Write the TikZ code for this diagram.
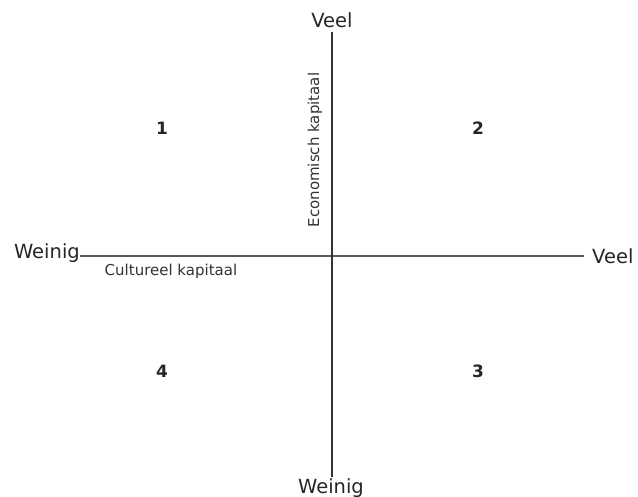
\documentclass[tikz,border=0pt]{standalone}
\usepackage{fontspec}
\setmainfont{DejaVu Sans}
\begin{document}
\begin{tikzpicture}[x=1pt,y=-1pt,
  big/.style={font=\fontsize{19.5}{22}\selectfont, text=black!85, inner sep=0pt},
  small/.style={font=\fontsize{15}{17}\selectfont, text=black!80, inner sep=0pt},
  num/.style={font=\bfseries\fontsize{17}{19}\selectfont, text=black!85, inner sep=0pt},
  axis/.style={line width=1.8pt}]
\useasboundingbox (0,0) rectangle (638,497);
\fill[white] (0,0) rectangle (638,497);
\coordinate (vt) at (332,32);
\coordinate (vb) at (332,477);
\coordinate (hl) at (80,256);
\coordinate (hr) at (584,256);
\draw[axis, draw=black!65] (hl) -- (hr);
\draw[axis, draw=black!80] (vt) -- (vb);
\node[big] (veelT) at (332,20) {Veel};
\node[big] (weinigB) at (331,488) {Weinig};
\node[big, anchor=east] (weinigL) at (80,253) {Weinig};
\node[big, anchor=west] (veelR) at (592,256) {Veel};
\node[small, rotate=90] (eco) at (315,150) {Economisch kapitaal};
\node[small] (cul) at (171,271) {Cultureel kapitaal};
\node[num] (n1) at (162,128) {1};
\node[num] (n2) at (478,128) {2};
\node[num] (n3) at (478,371) {3};
\node[num] (n4) at (162,371) {4};
\end{tikzpicture}
\end{document}
